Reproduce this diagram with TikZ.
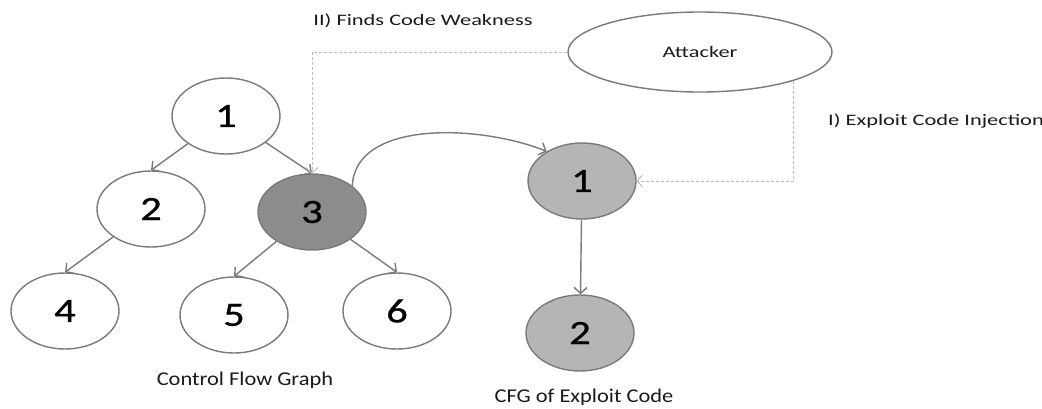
\documentclass[tikz,border=0pt]{standalone}
\usepackage{fontspec}
\setmainfont{Carlito}
\newfontfamily\notefont[FakeStretch=1.4]{Carlito}
\newfontfamily\capfont[FakeStretch=1.15]{Carlito}
\newfontfamily\digitfont[FakeStretch=1.25,FakeBold=0.8]{Carlito}
\usetikzlibrary{shapes.geometric,arrows.meta}
\definecolor{edgegray}{HTML}{7A7A7A}
\definecolor{dashgray}{HTML}{BDBDBD}
\definecolor{hotfill}{HTML}{8C8C8C}
\definecolor{exfill}{HTML}{B5B5B5}
\definecolor{inkgray}{HTML}{1A1A1A}
\begin{document}
\begin{tikzpicture}[x=1pt,y=-1pt,
  vert/.style={ellipse,draw=edgegray,line width=1.4pt,fill=white,
    minimum width=108pt,minimum height=76pt,inner sep=0pt,text=black,
    font=\digitfont\fontsize{34}{34}\selectfont},
  hot/.style={vert,fill=hotfill},
  expl/.style={vert,fill=exfill},
  flow/.style={draw=edgegray,line width=1.4pt,
    -{Straight Barb[length=6pt,width=13pt,line width=1.4pt]}},
  hint/.style={draw=dashgray,line width=1pt,dash pattern=on 3pt off 2pt,
    -{Straight Barb[length=5pt,width=12pt,line width=1pt]}},
  caption/.style={text=inkgray,font=\capfont\fontsize{19.5}{19.5}\selectfont},
  note/.style={text=inkgray,font=\notefont\fontsize{16}{16}\selectfont}]
\useasboundingbox (0,0) rectangle (1042,408);

% control flow graph
\node[vert] (c1) at (226,116) {1};
\node[vert] (c2) at (151,209) {2};
\node[hot]  (c3) at (312,212) {3};
\node[vert] (c4) at (65,311) {4};
\node[vert] (c5) at (234,315) {5};
\node[vert] (c6) at (397,311) {6};
\node[caption] (cfg) at (245,380) {Control Flow Graph};

% CFG of the injected code
\node[expl] (e1) at (582,181) {1};
\node[expl] (e2) at (580,333) {2};
\node[caption] (ecfg) at (584,397) {CFG of Exploit Code};

% attacker
\node[ellipse,draw=edgegray,line width=1.4pt,minimum width=264pt,
  minimum height=80pt,inner sep=0pt,note] (att) at (700,52) {Attacker};
\node[note] (weak) at (423,21) {II) Finds Code Weakness};
\node[note] (inj) at (936,121) {I) Exploit Code Injection};

% edges
\draw[flow] (c1) -- (c2.north);
\draw[flow] (c1) -- (c3.north);
\draw[flow] (c2) -- (c4.north);
\draw[flow] (c3) -- (c5.north);
\draw[flow] (c3) -- (c6.north);
\draw[flow] (e1) -- (e2);
\draw[flow] (c3.33) .. controls +(3,-66) and +(-67,-27) .. (e1.140);

% attacker actions
\draw[hint] (att.west) -| (c3.north);
\draw[hint] (att.south east) |- (e1.east);
\end{tikzpicture}
\end{document}
